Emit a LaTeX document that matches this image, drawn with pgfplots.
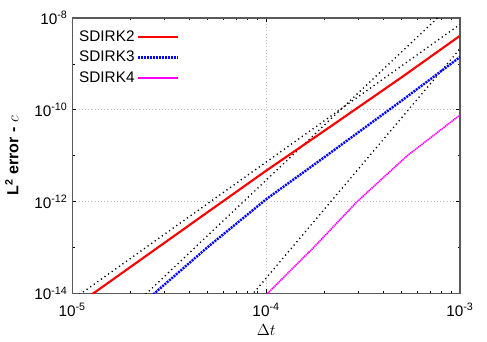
\documentclass[border=0pt]{standalone}
\usepackage{fontspec}
\setmainfont{Liberation Sans}
\usepackage{pgfplots}
\pgfplotsset{compat=1.18}
\definecolor{sdirkfour}{RGB}{255,0,255}

\begin{document}
\begin{tikzpicture}
\begin{axis}[
    scale only axis,
    width=290.8pt, height=206.5pt,
    xmode=log, ymode=log,
    xmin=1e-5, xmax=1e-3,
    ymin=1e-14, ymax=1e-8,
    xtick={1e-5,1e-4,1e-3},
    xticklabels={10\textsuperscript{-5},10\textsuperscript{-4},10\textsuperscript{-3}},
    minor xtick={2e-5,3e-5,4e-5,5e-5,6e-5,7e-5,8e-5,9e-5,2e-4,3e-4,4e-4,5e-4,6e-4,7e-4,8e-4,9e-4},
    ytick={1e-14,1e-12,1e-10,1e-8},
    yticklabels={10\textsuperscript{-14},10\textsuperscript{-12},10\textsuperscript{-10},10\textsuperscript{-8}},
    minor ytick={1e-13,1e-11,1e-9},
    major tick length=3pt, minor tick length=1.8pt,
    tick style={black, line width=0.5pt},
    grid=major,
    major grid style={gray!50, dotted, line width=0.5pt},
    axis line style={gray!70!black, line width=0.8pt},
    ticklabel style={font=\fontsize{11.5}{13}\selectfont},
    xticklabel style={yshift=-4pt},
    xlabel={$\Delta t$},
    ylabel={\bfseries L\textsuperscript{2} error - \mdseries$c$},
    xlabel style={font=\fontsize{12}{14}\selectfont, yshift=1pt},
    ylabel style={font=\fontsize{12}{14}\selectfont, yshift=5pt},
    legend plot pos=right,
    legend cell align=left,
    legend style={draw=none, fill=none, at={(0.0,0.975)}, anchor=north west,
        font=\fontsize{11.5}{13}\selectfont, row sep=2pt},
    legend image code/.code={\draw[#1] (0pt,0pt) -- (30pt,0pt);},
]
% reference slopes 3, 4, 5
\addplot[forget plot, black, line width=1pt, dash pattern=on 0.9pt off 2.4pt] coordinates {
  (1e-5,7.24e-15) (1e-3,7.24e-9)};
\addplot[forget plot, black, line width=1pt, dash pattern=on 0.9pt off 2.4pt] coordinates {
  (1e-5,2.92e-16) (1e-3,2.92e-8)};
\addplot[forget plot, black, line width=1pt, dash pattern=on 0.9pt off 2.4pt] coordinates {
  (1e-5,2.14e-19) (1e-3,2.14e-9)};
% SDIRK2
\addplot[red, line width=1.6pt] coordinates {
  (1e-5,4.7e-15) (2e-5,3.77e-14) (5e-5,5.9e-13) (1e-4,4.7e-12)
  (2e-4,3.5e-11) (5e-4,5.1e-10) (1e-3,4.1e-9)};
\addlegendentry{SDIRK2}
% SDIRK3
\addplot[blue, line width=1.8pt, dash pattern=on 1.5pt off 0.75pt] coordinates {
  (2e-5,3.55e-15) (5e-5,1.02e-13) (1e-4,1.12e-12)
  (2e-4,9.3e-12) (5e-4,1.58e-10) (1e-3,1.41e-9)};
\addlegendentry{SDIRK3}
% SDIRK4
\addplot[sdirkfour, line width=1.2pt, dash pattern=on 1pt off 0.5pt] coordinates {
  (1e-4,9.3e-15) (1.76e-4,1e-13) (2.95e-4,1e-12) (5.35e-4,1e-11) (1e-3,7.7e-11)};
\addlegendentry{SDIRK4}
\end{axis}
\pgfresetboundingbox
\path ([shift={(-54.2pt,-35.8pt)}]current axis.south west)
  rectangle ([shift={(20.25pt,13.5pt)}]current axis.north east);
\end{tikzpicture}
\end{document}
